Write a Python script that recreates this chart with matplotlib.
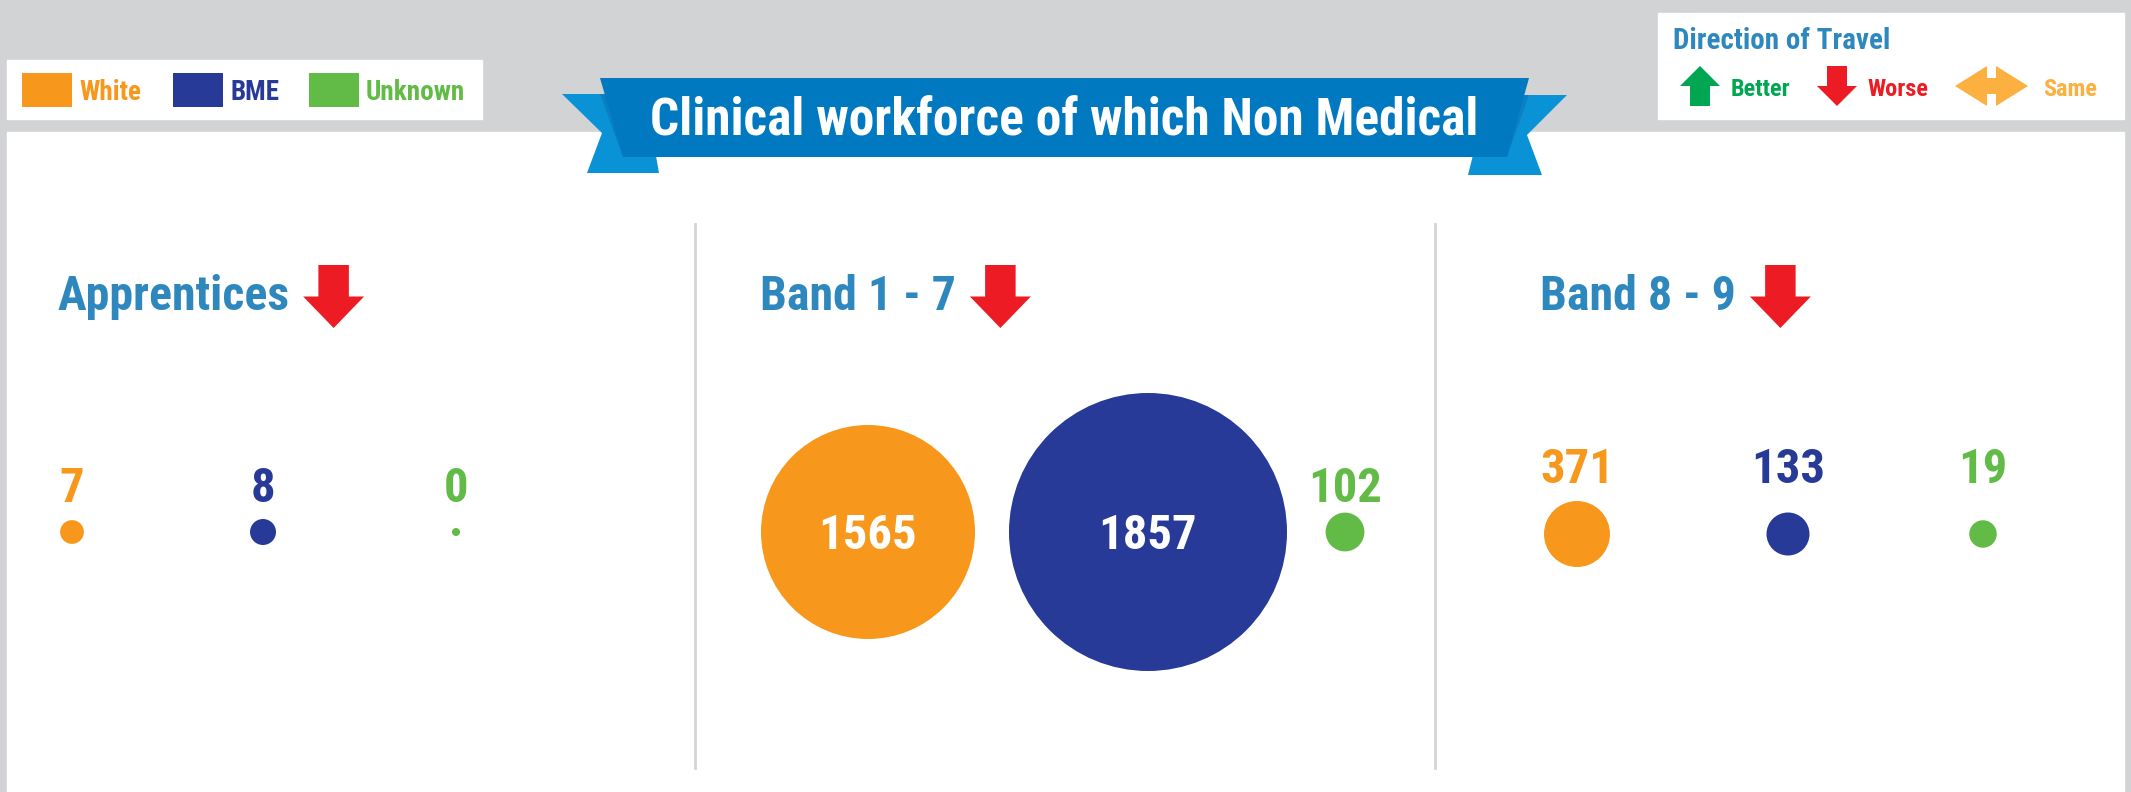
import numpy as np
import matplotlib
matplotlib.use("Agg")
import matplotlib.pyplot as plt
from matplotlib import font_manager
from matplotlib.patches import Circle, Polygon, Rectangle

groups = ["White", "BME", "Unknown"]
panel_names = ["Apprentices", "Band 1 - 7", "Band 8 - 9"]
apprentices = [7, 8, 0]
band_1_7 = [1565, 1857, 102]
band_8_9 = [371, 133, 19]
panel_trend = ["Worse", "Worse", "Worse"]
title = "Clinical workforce of which Non Medical"
travel_labels = ["Better", "Worse", "Same"]

# bubble radius scale (px), stops
size_domain = [0, 8, 133, 371, 1565, 1857]
size_range = [4, 13, 21.5, 33, 107, 139]

ORANGE = "#f7981d"
NAVY = "#283a97"
GREEN = "#62bb46"
HEAD_BLUE = "#2e88be"
RED = "#ed1c24"
group_colors = [ORANGE, NAVY, GREEN]
travel_colors = ["#00a651", RED, "#fbb040"]


def pick_font():
    entries = font_manager.fontManager.ttflist
    names = {f.name for f in entries}
    for cand in ["Liberation Sans Narrow", "Roboto Condensed", "Noto Sans Condensed",
                 "Open Sans Condensed", "Arial Narrow"]:
        if cand in names:
            return cand, "normal"
    for f in entries:
        if f.name == "DejaVu Sans" and "condensed" in str(f.stretch):
            return "DejaVu Sans", "condensed"
    return "Roboto", "normal"


FONT, STRETCH = pick_font()
plt.rcParams["font.family"] = [FONT, "DejaVu Sans"]
plt.rcParams["font.stretch"] = STRETCH

W, H = 2131, 792
fig = plt.figure(figsize=(W / 100, H / 100), dpi=100)
ax = fig.add_axes([0, 0, 1, 1])
ax.set_xlim(0, W)
ax.set_ylim(H, 0)
ax.axis("off")
fig.patch.set_facecolor("#d1d3d4")

# white panels
ax.add_patch(Rectangle((7, 132), 2117, 700, color="white", zorder=1))
ax.add_patch(Rectangle((7, 60), 475, 59, color="white", zorder=1))
ax.add_patch(Rectangle((1658, 13), 466, 106, color="white", zorder=1))


def down_arrow(x0, top, w, h, color, shaft=0.5, head=0.5):
    sw = w * shaft / 2
    cx = x0 + w / 2
    hb = top + h * (1 - head)
    pts = [(cx - sw, top), (cx + sw, top), (cx + sw, hb), (x0 + w, hb),
           (cx, top + h), (x0, hb), (cx - sw, hb)]
    ax.add_patch(Polygon(pts, closed=True, color=color, lw=0, zorder=3))


def up_arrow(x0, top, w, h, color, shaft=0.5, head=0.5):
    sw = w * shaft / 2
    cx = x0 + w / 2
    hb = top + h * head
    pts = [(cx, top), (x0 + w, hb), (cx + sw, hb), (cx + sw, top + h),
           (cx - sw, top + h), (cx - sw, hb), (x0, hb)]
    ax.add_patch(Polygon(pts, closed=True, color=color, lw=0, zorder=3))


def both_arrow(x0, x1, cy, color):
    hh, sh, hl = 20, 8, 32
    pts = [(x0, cy), (x0 + hl, cy - hh), (x0 + hl, cy - sh), (x1 - hl, cy - sh),
           (x1 - hl, cy - hh), (x1, cy), (x1 - hl, cy + hh), (x1 - hl, cy + sh),
           (x0 + hl, cy + sh), (x0 + hl, cy + hh)]
    ax.add_patch(Polygon(pts, closed=True, color=color, lw=0, zorder=3))


# colour legend (top left)
legend_x = [22, 173, 309]
for gx, name, col in zip(legend_x, groups, group_colors):
    ax.add_patch(Rectangle((gx, 73), 50, 34, color=col, lw=0, zorder=2))
    ax.text(gx + 57, 100, name, color=col, fontsize=19.5, fontweight="bold",
            va="baseline", ha="left", zorder=3)

# direction of travel legend (top right)
ax.text(1673, 49, "Direction of Travel", color=HEAD_BLUE, fontsize=21,
        fontweight="bold", va="baseline", ha="left", zorder=3)
up_arrow(1680, 66, 40, 40, travel_colors[0])
down_arrow(1817, 66, 40, 40, travel_colors[1])
both_arrow(1955, 2028, 86, travel_colors[2])
for tx, lab, col in zip([1731, 1867, 2043], travel_labels, travel_colors):
    ax.text(tx, 96, lab, color=col, fontsize=17.5, fontweight="bold",
            va="baseline", ha="left", zorder=3)

# title ribbon
tail = "#0a92d6"
ax.add_patch(Polygon([(562, 94), (645, 94), (659, 173), (587, 173), (602, 133)],
                     color=tail, lw=0, zorder=2))
ax.add_patch(Polygon([(1567, 95), (1488, 95), (1468, 175), (1542, 175), (1527, 135)],
                     color=tail, lw=0, zorder=2))
# darker fold where the tails tuck behind the main band
ax.add_patch(Polygon([(600, 94), (623, 157), (655, 157), (645, 94)],
                     color="#0a80c4", lw=0, zorder=2.5))
ax.add_patch(Polygon([(1529, 95), (1507, 157), (1475, 157), (1488, 95)],
                     color="#0a80c4", lw=0, zorder=2.5))
ax.add_patch(Polygon([(600, 78), (1529, 78), (1507, 157), (623, 157)],
                     color="#0079c1", lw=0, zorder=3))
ax.text(1064, 135, title, color="white", fontsize=37, fontweight="bold",
        ha="center", va="baseline", zorder=4)

# dividers
for dx in [695, 1435]:
    ax.plot([dx, dx], [224, 768], color="#d4d4d4", lw=2, zorder=2)

# panels
panel_values = [apprentices, band_1_7, band_8_9]
head_x = [57, 760, 1540]
bubble_x = [[72, 263, 456], [868, 1148, 1345], [1577, 1788, 1983]]
bubble_y = [532, 532, 534]
label_row = [502, 502, 483]

fig.canvas.draw()
renderer = fig.canvas.get_renderer()
inv = ax.transData.inverted()

for p, name in enumerate(panel_names):
    t = ax.text(head_x[p], 310, name, color=HEAD_BLUE, fontsize=34.5,
                fontweight="bold", va="baseline", ha="left", zorder=3)
    bb = t.get_window_extent(renderer)
    x_end = inv.transform((bb.x1, bb.y0))[0]
    if panel_trend[p] == "Worse":
        down_arrow(x_end + 14, 265, 61, 63, RED)
    elif panel_trend[p] == "Better":
        up_arrow(x_end + 14, 265, 61, 63, travel_colors[0])

    for i, v in enumerate(panel_values[p]):
        r = np.interp(v, size_domain, size_range)
        cx, cy = bubble_x[p][i], bubble_y[p]
        ax.add_patch(Circle((cx, cy), r, color=group_colors[i], lw=0, zorder=3))
        if r > 60:
            ax.text(cx, cy + 17, f"{v}", color="white", fontsize=35,
                    fontweight="bold", ha="center", va="baseline", zorder=4)
        else:
            ax.text(cx, label_row[p], f"{v}", color=group_colors[i], fontsize=35,
                    fontweight="bold", ha="center", va="baseline", zorder=4)

fig.savefig("out.png", dpi=100, facecolor=fig.get_facecolor())
